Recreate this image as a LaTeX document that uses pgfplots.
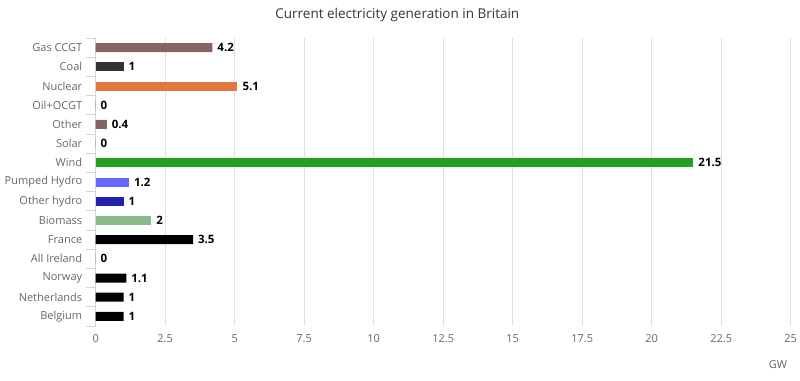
\documentclass[border=0pt]{standalone}
\usepackage{pgfplots}
\pgfplotsset{compat=1.18}
\usepackage{fontspec}
\setmainfont{Open Sans}
\definecolor{gasc}{RGB}{133,100,100}
\definecolor{coalc}{RGB}{51,51,51}
\definecolor{nucc}{RGB}{224,120,64}
\definecolor{windc}{RGB}{34,160,34}
\definecolor{pumpc}{RGB}{102,102,255}
\definecolor{hydroc}{RGB}{34,34,170}
\definecolor{bioc}{RGB}{136,187,136}
\definecolor{axc}{RGB}{204,214,235}
\definecolor{gridc}{RGB}{224,224,224}
\definecolor{labc}{RGB}{102,102,102}
\definecolor{titc}{RGB}{51,51,68}
\begin{document}
\begin{tikzpicture}[x=1pt,y=1pt]
\path[use as bounding box] (0,0) rectangle (800,380);
\begin{axis}[
  at={(95.7pt,54pt)}, anchor=south west,
  scale only axis, width=695pt, height=288pt,
  /pgf/number format/assume math mode=true,
  xbar, bar width=9pt, bar shift=0pt,
  xmin=0, xmax=25, ymin=-0.5, ymax=14.5,
  y dir=reverse,
  xtick={0,2.5,...,25},
  xticklabels={0,2.5,5,7.5,10,12.5,15,17.5,20,22.5,25},
  ytick={0,...,14},
  yticklabels={Gas CCGT,Coal,Nuclear,Oil+OCGT,Other,Solar,Wind,Pumped Hydro,Other hydro,Biomass,France,All Ireland,Norway,Netherlands,Belgium},
  minor ytick={-0.5,0.5,...,14.5},
  major tick length=0pt, minor tick length=10pt,
  tick align=outside,
  minor tick style={axc, line width=0.8pt},
  xmajorgrids=true,
  grid style={gridc, line width=0.8pt},
  axis lines*=left,
  axis line style={-},
  x axis line style={draw=none},
  y axis line style={draw=axc, line width=0.8pt},
  tick label style={font=\fontsize{11}{13}\selectfont, text=labc},
  yticklabel style={xshift=-10pt},
  xticklabel style={yshift=-5pt},
  xlabel={GW},
  xlabel style={at={(axis description cs:1,0)}, anchor=north east, yshift=-31pt, font=\fontsize{11}{13}\selectfont, text=labc},
  title={Current electricity generation in Britain},
  title style={at={(axis description cs:0.434,1)}, anchor=center, yshift=17pt, font=\fontsize{13.5}{16}\selectfont, text=titc},
  nodes near coords,
  every node near coord/.append style={anchor=west, xshift=1.5pt, font=\fontsize{11.5}{13}\selectfont\bfseries, text=black},
  clip=false,
]
\addplot[fill=gasc, draw=none] coordinates {(4.2,0) (0.4,4)};
\addplot[fill=coalc, draw=none] coordinates {(1,1)};
\addplot[fill=nucc, draw=none] coordinates {(5.1,2)};
\addplot[fill=black, draw=none] coordinates {(0,3) (0,5)};
\addplot[fill=windc, draw=none] coordinates {(21.5,6)};
\addplot[fill=pumpc, draw=none] coordinates {(1.2,7)};
\addplot[fill=hydroc, draw=none] coordinates {(1,8)};
\addplot[fill=bioc, draw=none] coordinates {(2,9)};
\addplot[fill=black, draw=none] coordinates {(3.5,10) (0,11) (1.1,12) (1,13) (1,14)};
\end{axis}
\end{tikzpicture}
\end{document}
